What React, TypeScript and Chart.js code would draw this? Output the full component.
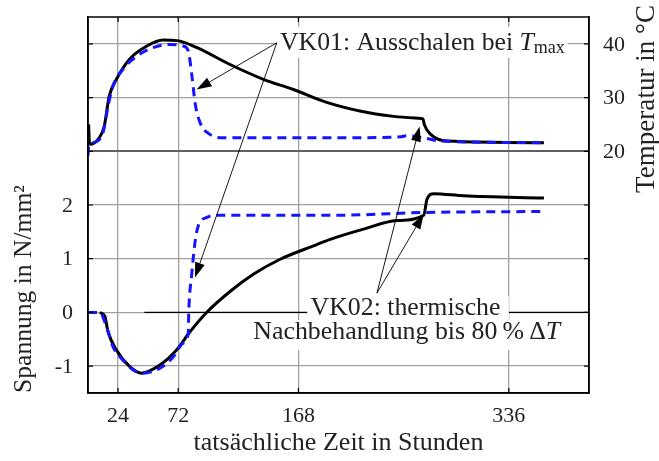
import React, { useEffect, useRef } from 'react';
import { Chart, registerables } from 'chart.js';
Chart.register(...registerables);

// x: hours, temperatures in °C, stresses in N/mm²
const vk01TempHours = [0, 0.5, 4, 12, 16, 20, 28, 39, 52, 65, 76, 80, 83, 85.5, 89.5, 97, 108, 153, 200, 250, 254, 268, 282, 364];
const vk01Temp = [19.2, 20.8, 21.6, 23.5, 28.4, 32.2, 35.3, 37.7, 39.3, 39.9, 39.6, 38.7, 34, 29, 25.3, 23.2, 22.5, 22.5, 22.5, 22.7, 22.9, 22.5, 21.9, 21.6];
const vk02TempHours = [0.5, 1.2, 9, 13, 17, 22.7, 33, 47, 60, 71, 87, 113, 140, 164, 190.6, 217, 244, 266, 267.5, 268.5, 273.4, 287, 364];
const vk02Temp = [25, 21.3, 22.5, 24.7, 30.3, 33.4, 37.1, 39.6, 40.7, 40.6, 39.3, 36.2, 33.4, 31.5, 29.1, 27.5, 26.5, 26.1, 26, 25, 23.2, 21.9, 21.6];
const vk01StressHours = [0, 9.4, 14.7, 20, 28, 36, 44, 57.4, 68, 76, 80, 80.5, 82.7, 85.4, 88, 95, 105, 200, 268, 364];
const vk01Stress = [0, 0, -0.26, -0.64, -0.89, -1.07, -1.13, -1.04, -0.83, -0.57, -0.39, 0.05, 0.68, 1.3, 1.61, 1.77, 1.81, 1.81, 1.86, 1.88];
const vk02StressHours = [9.4, 13.4, 16, 22.7, 33.4, 42.7, 57.4, 70.7, 81.4, 94.7, 113.4, 132, 153.4, 180, 193.4, 220, 246.7, 268, 270.7, 276, 300, 364];
const vk02Stress = [0, -0.07, -0.36, -0.7, -1.01, -1.13, -0.98, -0.7, -0.36, 0, 0.39, 0.71, 0.99, 1.24, 1.36, 1.55, 1.71, 1.81, 2.11, 2.21, 2.17, 2.13];

const xTicks = [24, 72, 168, 336];
const stressTicks = [-1, 0, 1, 2];
const tempTicks = [20, 30, 40];

const FONT = '"Liberation Serif", "DejaVu Serif", serif';
const tempToAxis = (t: number) => (t - 20) / 10 + 3;

type Part = { t: string; it?: boolean; sub?: boolean };

function richWidth(ctx: CanvasRenderingContext2D, parts: Part[], size: number) {
  let w = 0;
  for (const p of parts) {
    const s = p.sub ? size * 0.7 : size;
    ctx.font = `${p.it ? 'italic ' : ''}${s}px ${FONT}`;
    w += ctx.measureText(p.t).width;
  }
  return w;
}

function drawRich(ctx: CanvasRenderingContext2D, parts: Part[], cx: number, cy: number, targetW: number, baseSize: number, bg: boolean) {
  const w0 = richWidth(ctx, parts, baseSize);
  const size = baseSize * (targetW / w0);
  const w = richWidth(ctx, parts, size);
  let x = cx - w / 2;
  if (bg) {
    ctx.fillStyle = '#fff';
    ctx.fillRect(x - 3, cy - size * 0.62, w + 6, size * 1.2);
  }
  ctx.fillStyle = '#222';
  ctx.textBaseline = 'middle';
  ctx.textAlign = 'left';
  for (const p of parts) {
    const s = p.sub ? size * 0.7 : size;
    ctx.font = `${p.it ? 'italic ' : ''}${s}px ${FONT}`;
    ctx.fillText(p.t, x, p.sub ? cy + size * 0.22 : cy);
    x += ctx.measureText(p.t).width;
  }
}

function arrow(ctx: CanvasRenderingContext2D, x0: number, y0: number, x1: number, y1: number) {
  const ang = Math.atan2(y1 - y0, x1 - x0);
  const L = 15, W = 5;
  const bx = x1 - L * Math.cos(ang), by = y1 - L * Math.sin(ang);
  ctx.strokeStyle = '#000';
  ctx.lineWidth = 0.9;
  ctx.beginPath();
  ctx.moveTo(x0, y0);
  ctx.lineTo(bx, by);
  ctx.stroke();
  ctx.fillStyle = '#000';
  ctx.beginPath();
  ctx.moveTo(x1, y1);
  ctx.lineTo(bx + W * Math.sin(ang), by - W * Math.cos(ang));
  ctx.lineTo(bx - W * Math.sin(ang), by + W * Math.cos(ang));
  ctx.closePath();
  ctx.fill();
}

const decor = {
  id: 'decor',
  beforeDatasetsDraw(chart: any) {
    const { ctx, scales: { x, y } } = chart;
    ctx.save();
    // black zero reference line
    ctx.strokeStyle = '#000';
    ctx.lineWidth = 1.2;
    ctx.beginPath();
    ctx.moveTo(x.getPixelForValue(45), y.getPixelForValue(0));
    ctx.lineTo(x.getPixelForValue(400), y.getPixelForValue(0));
    ctx.stroke();
    ctx.restore();
  },
  afterDraw(chart: any) {
    const { ctx, chartArea: a, scales: { x, y } } = chart;
    ctx.save();
    // frame
    ctx.strokeStyle = '#000';
    ctx.lineWidth = 1.5;
    ctx.strokeRect(a.left, a.top, a.right - a.left, a.bottom - a.top);
    // inward ticks
    ctx.lineWidth = 1.2;
    ctx.beginPath();
    for (let v = -1; v <= 5; v++) {
      const py = y.getPixelForValue(v);
      ctx.moveTo(a.left, py); ctx.lineTo(a.left + 5, py);
      ctx.moveTo(a.right, py); ctx.lineTo(a.right - 5, py);
    }
    for (const v of xTicks) {
      const px = x.getPixelForValue(v);
      ctx.moveTo(px, a.bottom); ctx.lineTo(px, a.bottom - 5);
      ctx.moveTo(px, a.top); ctx.lineTo(px, a.top + 5);
    }
    ctx.stroke();

    // tick labels
    ctx.fillStyle = '#222';
    ctx.font = `22px ${FONT}`;
    ctx.textBaseline = 'middle';
    ctx.textAlign = 'right';
    for (const v of stressTicks) ctx.fillText(String(v), a.left - 15, y.getPixelForValue(v) + 1);
    ctx.textAlign = 'left';
    for (const t of tempTicks) ctx.fillText(String(t), a.right + 14, y.getPixelForValue(tempToAxis(t)) + 1);
    ctx.textAlign = 'center';
    for (const v of xTicks) ctx.fillText(String(v), x.getPixelForValue(v), a.bottom + 23);

    const P = (h: number, s: number) => [x.getPixelForValue(h), y.getPixelForValue(s)];

    // VK01 annotation
    const [c1x, c1y] = P(150.7, 5.02);
    const [t1x, t1y] = P(86.7, 4.15);
    const [t2x, t2y] = P(85.4, 0.65);
    drawRich(ctx, [{ t: 'VK01: Ausschalen bei ' }, { t: 'T', it: true }, { t: 'max', sub: true }], x.getPixelForValue(267), y.getPixelForValue(5.02), 285, 22, true);
    arrow(ctx, c1x, c1y, t1x, t1y);
    arrow(ctx, c1x, c1y, t2x, t2y);

    // VK02 annotation
    const [c2x, c2y] = P(230.7, 0.36);
    const [u1x, u1y] = P(268, 1.83);
    const [u2x, u2y] = P(264.8, 3.46);
    ctx.fillStyle = '#fff';
    const [b1l, b1t] = P(175, 0.3);
    const [b1r, b1b] = P(336, -0.14);
    ctx.fillRect(b1l, b1t, b1r - b1l, b1b - b1t);
    const [b2l, b2t] = P(130, -0.14);
    const [b2r, b2b] = P(380, -0.7);
    ctx.fillRect(b2l, b2t, b2r - b2l, b2b - b2t);
    drawRich(ctx, [{ t: 'VK02: thermische' }], x.getPixelForValue(253.5), y.getPixelForValue(0.08), 190, 22, false);
    drawRich(ctx, [{ t: 'Nachbehandlung bis 80\u2009%\u2009\u0394' }, { t: 'T', it: true }], x.getPixelForValue(254.5), y.getPixelForValue(-0.37), 307, 22, false);
    arrow(ctx, c2x, c2y, u1x, u1y);
    arrow(ctx, c2x, c2y, u2x, u2y);

    // axis titles
    drawRich(ctx, [{ t: 'tatsächliche Zeit in Stunden' }], (a.left + a.right) / 2, 443, 290, 22, false);
    ctx.save();
    ctx.translate(24, 289);
    ctx.rotate(-Math.PI / 2);
    drawRich(ctx, [{ t: 'Spannung in N/mm\u00B2' }], 0, 0, 208, 22, false);
    ctx.restore();
    ctx.save();
    ctx.translate(647, 99);
    ctx.rotate(-Math.PI / 2);
    drawRich(ctx, [{ t: 'Temperatur in \u00B0C' }], 0, 0, 188, 22, false);
    ctx.restore();
    ctx.restore();
  },
};

export default function App() {
  const ref = useRef<HTMLCanvasElement>(null);
  useEffect(() => {
    const toPts = (hs: number[], vs: number[], f = (v: number) => v) => hs.map((h, i) => ({ x: h, y: f(vs[i]) }));
    const blue = '#1414ff';
    const chart = new Chart(ref.current!, {
      type: 'line',
      data: {
        datasets: [
          { label: 'VK01 Temperatur', data: toPts(vk01TempHours, vk01Temp, tempToAxis), borderColor: blue, borderWidth: 3, borderDash: [9, 6], pointRadius: 0, cubicInterpolationMode: 'monotone' },
          { label: 'VK01 Spannung', data: toPts(vk01StressHours, vk01Stress), borderColor: blue, borderWidth: 3, borderDash: [9, 6], pointRadius: 0, cubicInterpolationMode: 'monotone' },
          { label: 'VK02 Temperatur', data: toPts(vk02TempHours, vk02Temp, tempToAxis), borderColor: '#000', borderWidth: 3, pointRadius: 0, cubicInterpolationMode: 'monotone' },
          { label: 'VK02 Spannung', data: toPts(vk02StressHours, vk02Stress), borderColor: '#000', borderWidth: 3, pointRadius: 0, cubicInterpolationMode: 'monotone' },
        ],
      },
      options: {
        animation: false,
        responsive: false,
        layout: { autoPadding: false, padding: { top: 17, left: 0, right: 0, bottom: 0 } },
        plugins: { legend: { display: false }, tooltip: { enabled: false } },
        scales: {
          x: {
            type: 'linear', min: 0, max: 400,
            afterBuildTicks: (s: any) => { s.ticks = xTicks.map((v) => ({ value: v })); },
            afterFit: (s: any) => { s.height = 68; },
            ticks: { display: false },
            grid: { color: '#a0a0a0', lineWidth: 1.3, drawTicks: false },
            border: { color: '#000', width: 1.5 },
          },
          y: {
            type: 'linear', position: 'left', min: -1.5, max: 5.5,
            afterBuildTicks: (s: any) => { s.ticks = [-1, 0, 1, 2, 3, 4, 5].map((v) => ({ value: v })); },
            afterFit: (s: any) => { s.width = 88; },
            ticks: { display: false },
            grid: {
              color: (c: any) => (c.tick && c.tick.value === 3 ? '#606060' : '#a0a0a0'),
              lineWidth: (c: any) => (c.tick && c.tick.value === 3 ? 2 : 1.3),
              drawTicks: false,
            },
            border: { color: '#000', width: 1.5 },
          },
          y2: {
            type: 'linear', position: 'right', min: -1.5, max: 5.5,
            afterFit: (s: any) => { s.width = 70; },
            ticks: { display: false },
            grid: { display: false, drawTicks: false },
            border: { color: '#000', width: 1.5 },
          },
        },
      },
      plugins: [decor],
    } as any);
    return () => chart.destroy();
  }, []);
  return (
    <div style={{ position: 'fixed', left: 0, top: 0, width: 659, height: 461, background: '#fff' }}>
      <canvas ref={ref} width={659} height={461} style={{ width: 659, height: 461 }} />
    </div>
  );
}
